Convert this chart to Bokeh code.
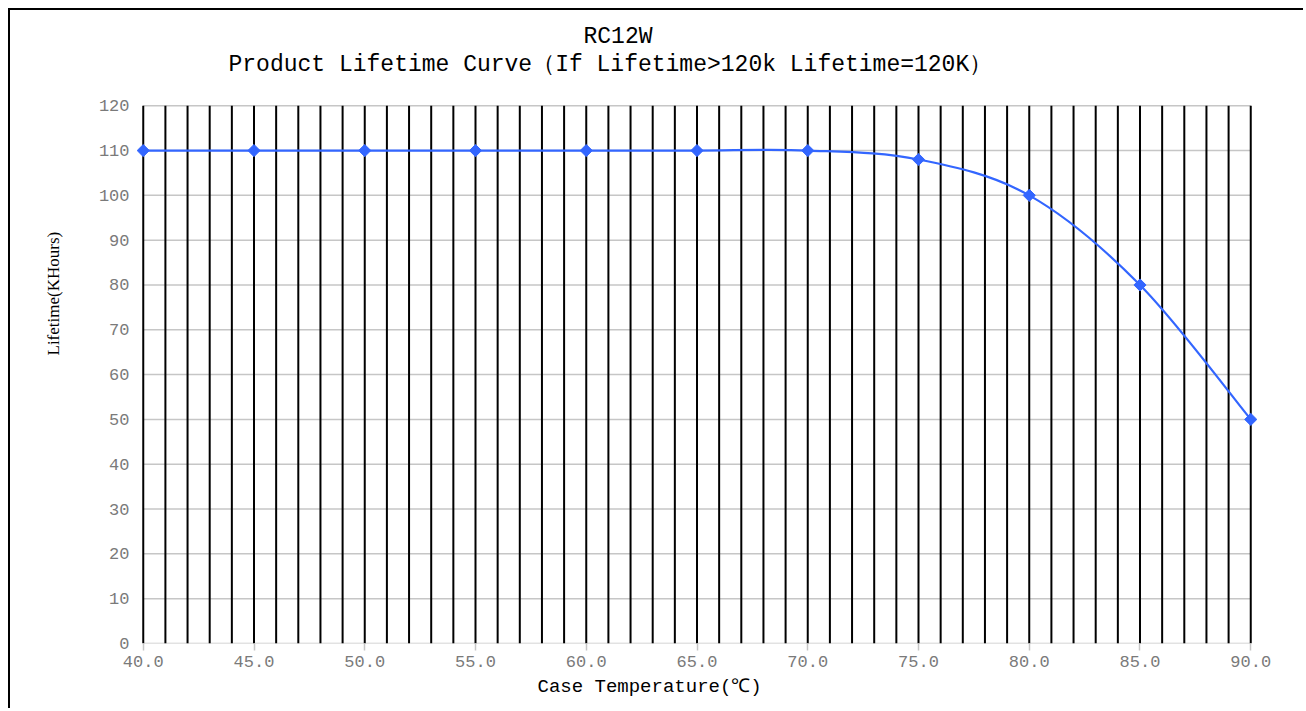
import numpy as np
from bokeh.plotting import figure
from bokeh.models import Title, FixedTicker, PrintfTickFormatter, Range1d, LinearAxis
from bokeh.embed import file_html
from bokeh.resources import INLINE

# ---- data ----
temperature = [40, 45, 50, 55, 60, 65, 70, 75, 80, 85, 90]
lifetime = [110, 110, 110, 110, 110, 110, 110, 108, 100, 80, 50]
x_tick_values = [40, 45, 50, 55, 60, 65, 70, 75, 80, 85, 90]
y_tick_values = [0, 10, 20, 30, 40, 50, 60, 70, 80, 90, 100, 110, 120]
x_grid_values = list(range(40, 91))
title_line1 = "RC12W"
title_line2 = "Product Lifetime Curve（If Lifetime>120k Lifetime=120K）"
x_label = "Case Temperature(℃)"
y_label = "Lifetime(KHours)"

BLUE = "#3366FF"
GRAY_TXT = "#7a7a7a"
GRID_GRAY = "#c6c6c6"
MONO = "Liberation Mono"
SERIF = "Liberation Serif"

p = figure(width=1295, height=700, title=None,
           x_range=Range1d(39.65, 90.35), y_range=Range1d(0, 120.5),
           output_backend="svg", toolbar_location=None,
           min_border_left=123, min_border_right=47,
           min_border_top=93, min_border_bottom=67)
p.styles = {"margin-left": "8px", "margin-top": "8px",
            "border-left": "2px solid black", "border-top": "2px solid black"}
p.xgrid.visible = False
p.ygrid.visible = False
p.outline_line_color = None
p.background_fill_color = "white"
p.border_fill_color = "white"

# horizontal grid (gray), incl. axis line at 0
xmin, xmax = min(x_grid_values), max(x_grid_values)
ymax = max(y_tick_values)
p.segment(x0=[xmin] * len(y_tick_values), y0=y_tick_values,
          x1=[xmax] * len(y_tick_values), y1=y_tick_values,
          line_color=GRID_GRAY, line_width=1.5)
# vertical grid (black)
p.segment(x0=x_grid_values, y0=[0] * len(x_grid_values),
          x1=x_grid_values, y1=[ymax] * len(x_grid_values),
          line_color="black", line_width=2)

# smoothed line (Catmull-Rom style bezier through the data points)
xs = np.array(temperature, dtype=float)
ys = np.array(lifetime, dtype=float)
xp = np.concatenate([[xs[0]], xs, [xs[-1]]])
yp = np.concatenate([[ys[0]], ys, [ys[-1]]])
n = len(xs)
cx0 = [xp[i + 1] + (xp[i + 2] - xp[i]) / 6 for i in range(n - 1)]
cy0 = [yp[i + 1] + (yp[i + 2] - yp[i]) / 6 for i in range(n - 1)]
cx1 = [xp[i + 2] - (xp[i + 3] - xp[i + 1]) / 6 for i in range(n - 1)]
cy1 = [yp[i + 2] - (yp[i + 3] - yp[i + 1]) / 6 for i in range(n - 1)]
p.bezier(x0=xs[:-1], y0=ys[:-1], x1=xs[1:], y1=ys[1:],
         cx0=cx0, cy0=cy0, cx1=cx1, cy1=cy1,
         line_color=BLUE, line_width=2.2)
p.scatter(x=temperature, y=lifetime, marker="square", size=8.6, angle=np.pi / 4,
          fill_color=BLUE, line_color=BLUE)

# axes
p.xaxis.ticker = FixedTicker(ticks=x_tick_values)
p.xaxis.formatter = PrintfTickFormatter(format="%.1f")
p.xaxis.axis_line_color = None
p.xaxis.major_tick_out = 7
p.xaxis.major_tick_in = 0
p.xaxis.minor_tick_out = 0
p.xaxis.minor_tick_in = 0
p.xaxis.major_tick_line_color = GRID_GRAY
p.xaxis.major_tick_line_width = 1.5
p.xaxis.major_label_standoff = 5
p.xaxis.major_label_text_font = MONO
p.xaxis.major_label_text_font_size = "17px"
p.xaxis.major_label_text_color = GRAY_TXT

p.yaxis.ticker = FixedTicker(ticks=y_tick_values)
p.yaxis.axis_line_color = None
p.yaxis.major_tick_out = 0
p.yaxis.major_tick_in = 0
p.yaxis.minor_tick_out = 0
p.yaxis.minor_tick_in = 0
p.yaxis.major_label_standoff = 6
p.yaxis.major_label_text_font = MONO
p.yaxis.major_label_text_font_size = "17px"
p.yaxis.major_label_text_color = GRAY_TXT

# invisible spacer axis between plot and title
spacer = LinearAxis(ticker=FixedTicker(ticks=x_tick_values), axis_line_color=None,
                    major_tick_out=25, major_tick_in=0, minor_tick_out=0, minor_tick_in=0,
                    major_tick_line_color=None, minor_tick_line_color=None,
                    major_label_standoff=0, major_label_text_font_size="1px",
                    major_label_text_color=None)
p.add_layout(spacer, "above")

# titles
p.add_layout(Title(text=title_line2, align="left", offset=93, standoff=0,
                   vertical_align="middle", text_font=MONO, text_font_size="23px",
                   text_font_style="normal", text_color="black"), "above")
p.add_layout(Title(text=title_line1, align="left", offset=448, standoff=0,
                   vertical_align="middle", text_font=MONO, text_font_size="23px",
                   text_font_style="normal", text_color="black"), "above")
# axis titles
p.add_layout(Title(text=x_label, align="left", offset=402, standoff=10,
                   vertical_align="middle", text_font=MONO, text_font_size="19px",
                   text_font_style="normal", text_color="black"), "below")
p.add_layout(Title(text=y_label, align="left", offset=288, standoff=64,
                   vertical_align="middle", text_font=SERIF, text_font_size="17px",
                   text_font_style="normal", text_color="black"), "left")

open("out.html", "w").write(file_html(p, INLINE))
